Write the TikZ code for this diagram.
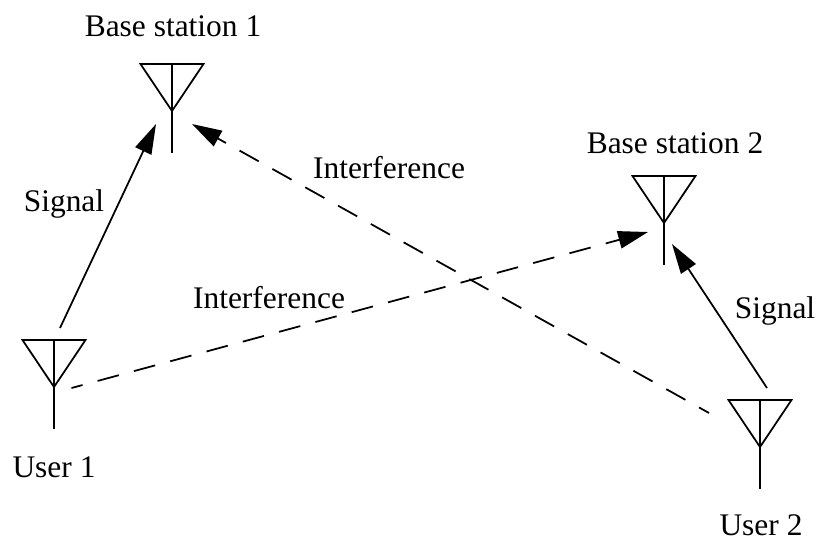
\documentclass[tikz,border=0pt]{standalone}
\usepackage{fontspec}
\setmainfont{Liberation Serif}
\usetikzlibrary{arrows.meta}
\tikzset{
  mast/.style={line width=1pt},
  signal/.style={line width=1pt, -{Triangle[length=17pt,width=10pt]}},
  interference/.style={signal, dash pattern=on 12.5pt off 8.9pt, dash phase=6pt},
  lbl/.style={inner sep=0pt, font=\fontsize{17.9}{17.9}\selectfont}
}
\begin{document}
\begin{tikzpicture}[x=0.02cm, y=-0.02cm]
  \useasboundingbox (0,0) rectangle (818,542);

  % Antennas
  \foreach \ant/\x/\y in {bs1/172/64, bs2/664/176, user1/54/340, user2/760/400} {
    \coordinate (\ant) at (\x,\y);
    \draw[mast, line join=miter] (\x-31.5,\y) -- (\x+31.5,\y) -- (\x,\y+47) -- cycle;
    \draw[mast] (\x,\y) -- (\x,\y+89);
  }

  % Labels
  \node[lbl] (bs1label) at (173,26) {Base station 1};
  \node[lbl] (bs2label) at (675,143) {Base station 2};
  \node[lbl] (user1label) at (54,467) {User 1};
  \node[lbl] (user2label) at (761,525) {User 2};
  \node[lbl] (sig1label) at (64,204) {Signal};
  \node[lbl] (sig2label) at (775,311) {Signal};
  \node[lbl] (int1label) at (389,168) {Interference};
  \node[lbl] (int2label) at (269,298) {Interference};

  % Link ends
  \coordinate (sig1from) at (60,328);
  \coordinate (sig1to) at (156,124);
  \coordinate (sig2from) at (767,388);
  \coordinate (sig2to) at (672,244);
  \coordinate (int1from) at (709,413);
  \coordinate (int1to) at (192,124);
  \coordinate (int2from) at (71.5,388);
  \coordinate (int2to) at (648,232);

  % Links
  \draw[signal] (sig1from) -- (sig1to);
  \draw[signal] (sig2from) -- (sig2to);
  \draw[interference] (int1from) -- (int1to);
  \draw[interference] (int2from) -- (int2to);
\end{tikzpicture}
\end{document}
